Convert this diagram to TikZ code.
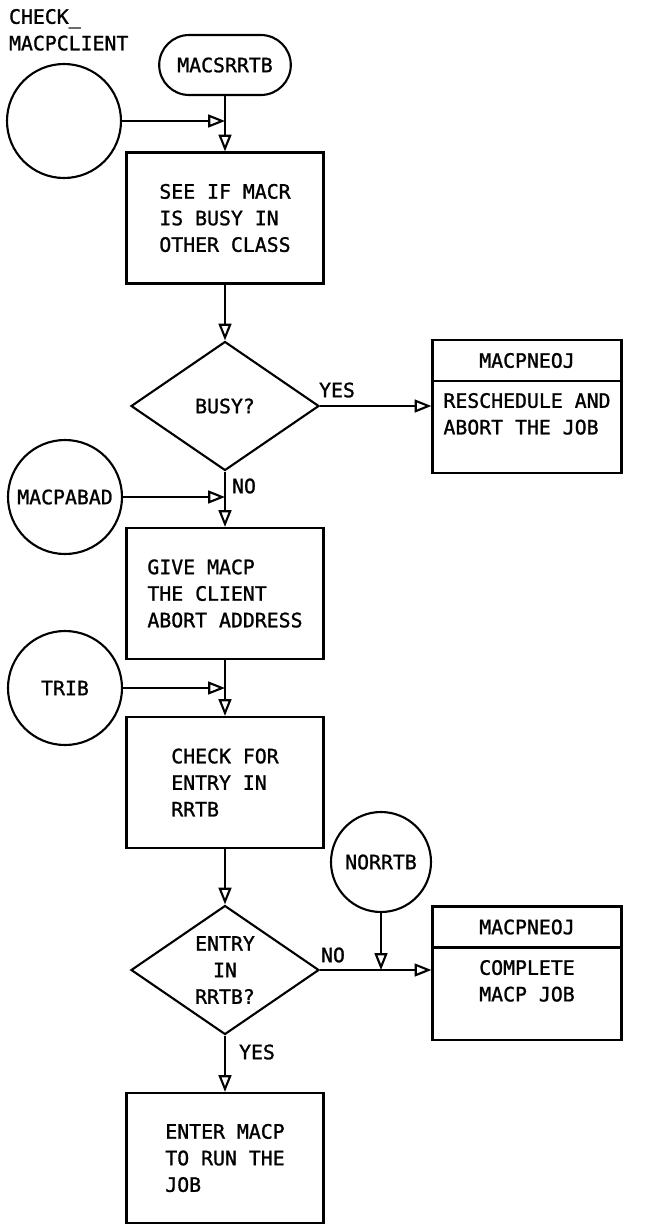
\documentclass[tikz,border=0pt]{standalone}
\usepackage{fontspec}
\newfontfamily\chartfont[FakeBold=1.2]{DejaVu Sans Mono}
\usetikzlibrary{shapes.geometric, shapes.misc, arrows.meta}
\tikzstyle{proc} = [rectangle, minimum width=4.925cm, minimum height=3.275cm, align=left, draw=black]
\tikzstyle{hdr} = [rectangle, minimum width=4.725cm, minimum height=1.025cm, draw=black]
\tikzstyle{body} = [rectangle, minimum width=4.725cm, minimum height=2.3cm, align=left, draw=black]
\tikzstyle{decision} = [diamond, minimum width=4.7cm, minimum height=3.225cm, inner sep=0pt, align=center, draw=black]
\tikzstyle{mCircle} = [circle, minimum size=2.85cm, inner sep=0pt, draw=black]
\tikzstyle{term} = [rounded rectangle, minimum width=3.525cm, minimum height=1.5cm, draw=black]
\tikzstyle{blank} = [rectangle, inner sep=0pt]
\tikzstyle{arrow} = [-{Triangle[open, length=0.42cm, width=0.32cm]}]

\begin{document}
\begin{tikzpicture}[every node/.style={font=\chartfont\fontsize{14.1}{18.9}\selectfont}, line width=1.5pt]
        \useasboundingbox (0,0) rectangle (16.125,-30.675);

        \node[blank, align=left, anchor=north west] (title) at (0.2,-0.2) {CHECK\_\\MACPCLIENT};
        \node[mCircle] (client) at (1.6,-3.025) {};
        \node[term] (macsrrtb) at (5.625,-1.625) {MACSRRTB};
        \node[proc] (seeif) at (5.625,-5.45) {SEE IF MACR\\IS BUSY IN\\OTHER CLASS};
        \node[decision] (busy) at (5.625,-10.15) {BUSY?};
        \node[hdr] (neoj1) at (13.175,-9.0125) {MACPNEOJ};
        \node[body] (resched) at (13.175,-10.675) {RESCHEDULE AND\\ABORT THE JOB\\\mbox{}};

        \node[mCircle] (macpabad) at (1.625,-12.425) {MACPABAD};
        \node[proc] (give) at (5.625,-14.8375) {GIVE MACP\\THE CLIENT\\ABORT ADDRESS};
        \node[mCircle] (trib) at (1.625,-17.2) {TRIB};
        \node[proc] (check) at (5.625,-19.5625) {CHECK FOR\\ENTRY IN\\RRTB};
        \node[decision] (entry) at (5.625,-24.25) {ENTRY\\IN\\RRTB?};
        \node[mCircle, minimum size=2.5cm] (norrtb) at (9.525,-21.55) {NORRTB};
        \node[hdr] (neoj2) at (13.175,-23.175) {MACPNEOJ};
        \node[body] (complete) at (13.175,-24.85) {COMPLETE\\MACP JOB\\\mbox{}};
        \node[proc, minimum height=3.25cm] (enter) at (5.625,-28.95) {ENTER MACP\\TO RUN THE\\JOB};

        \node[blank] (yes1) at (8.425,-9.75) {YES};
        \node[blank] (no1) at (6.1,-12.15) {NO};
        \node[blank] (no2) at (8.325,-23.875) {NO};
        \node[blank] (yes2) at (6.425,-26.3) {YES};

        \draw[arrow] (client.east) -- (client.east -| seeif.north);
        \draw[arrow] (macsrrtb.south) -- (seeif.north);
        \draw[arrow] (seeif.south) -- (busy.north);
        \draw[arrow] (busy.east) -- (busy.east -| resched.west);
        \draw[arrow] (busy.south) -- (give.north);
        \draw[arrow] (macpabad.east) -- (macpabad.east -| give.north);
        \draw[arrow] (give.south) -- (check.north);
        \draw[arrow] (trib.east) -- (trib.east -| check.north);
        \draw[arrow] (check.south) -- (entry.north);
        \draw[arrow] (entry.east) -- (entry.east -| complete.west);
        \draw[arrow] (norrtb.south) -- (norrtb.south |- entry.east);
        \draw[arrow] (entry.south) -- (enter.north);
\end{tikzpicture}
\end{document}
